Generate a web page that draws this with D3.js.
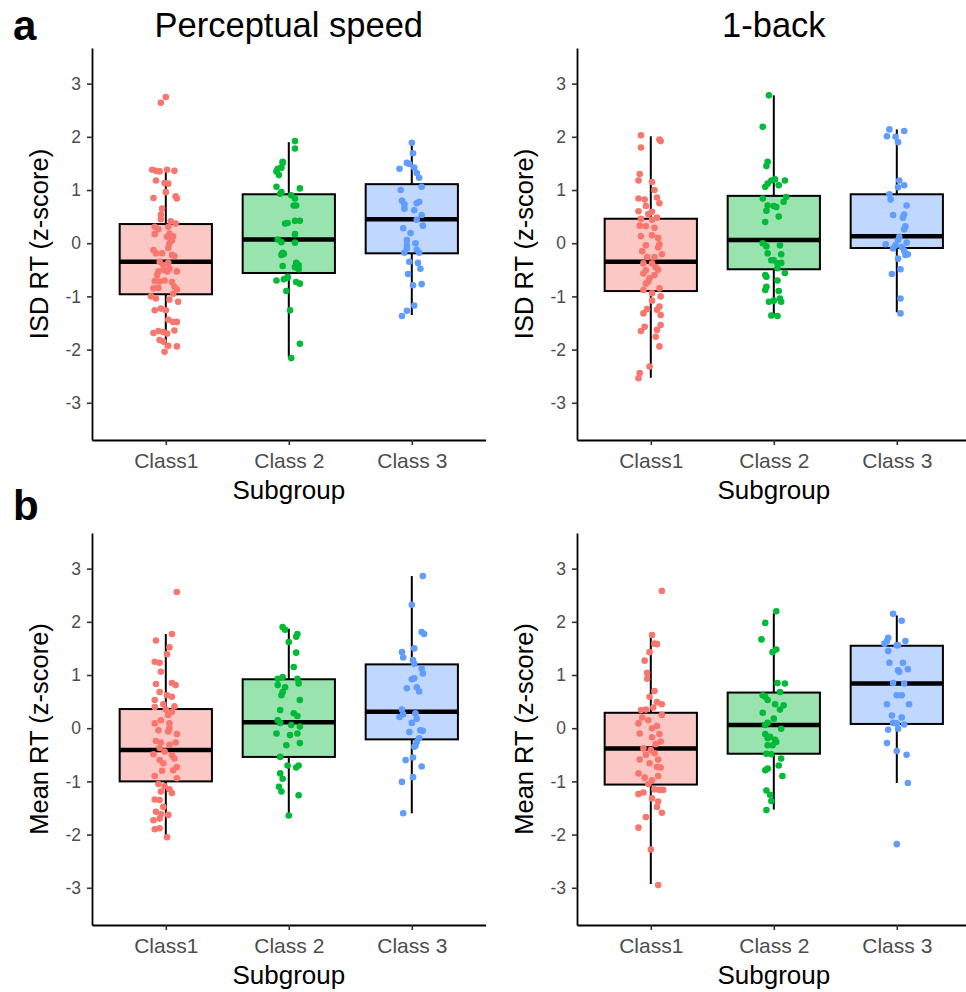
<!DOCTYPE html>
<html>
<head>
<meta charset="utf-8">
<script src="https://cdn.jsdelivr.net/npm/d3@7"></script>
<style>
  body { margin: 0; background: #fff; }
  svg text { font-family: "Liberation Sans", Arial, sans-serif; }
</style>
</head>
<body>
<div id="chart"></div>
<script>
// categories / ticks / labels
var categories = ["Class1", "Class 2", "Class 3"];
var yTicks = [-3, -2, -1, 0, 1, 2, 3];
var panelTitles = ["Perceptual speed", "1-back"];
var rowLetters = ["a", "b"];
var yTitles = ["ISD RT (z-score)", "Mean RT (z-score)"];
var xTitle = "Subgroup";
var colors = ["#F8766D", "#00BA38", "#619CFF"];

// box stats per class: [whisker low, q1, median, q3, whisker high]
var boxPsIsd = [[-1.96, -0.96, -0.35, 0.36, 1.34], [-2.14, -0.56, 0.07, 0.92, 1.90], [-1.35, -0.19, 0.45, 1.11, 1.88]];
var boxNbIsd = [[-2.53, -0.90, -0.35, 0.46, 2.01], [-1.37, -0.49, 0.06, 0.89, 2.78], [-1.30, -0.09, 0.13, 0.92, 2.14]];
var boxPsMean = [[-2.04, -1.00, -0.41, 0.36, 1.77], [-1.64, -0.54, 0.11, 0.92, 1.87], [-1.60, -0.21, 0.31, 1.20, 2.86]];
var boxNbMean = [[-2.93, -1.06, -0.38, 0.29, 1.77], [-1.53, -0.48, 0.06, 0.67, 2.16], [-1.03, 0.08, 0.84, 1.55, 2.12]];

// jittered points: [jitter offset (category units), z-score]
var psIsd1 = [[0.00,2.75],[-0.04,2.64],[-0.11,1.38],[-0.08,1.36],[-0.05,1.35],[0.01,1.38],[0.07,1.36],[-0.08,1.18],[-0.01,1.13],[0.02,1.12],
  [0.00,0.96],[-0.10,0.85],[0.08,0.88],[0.09,0.84],[-0.03,0.65],[-0.04,0.54],[0.04,0.41],[0.08,0.37],[0.02,0.31],[-0.09,0.31],[-0.06,0.26],
  [-0.09,0.17],[0.03,0.18],[0.01,0.12],[0.06,0.13],[0.03,0.00],[0.02,-0.09],[-0.10,-0.13],[-0.08,-0.19],[-0.03,-0.19],[0.05,-0.22],[0.07,-0.24],
  [-0.05,-0.35],[0.02,-0.37],[-0.02,-0.41],[-0.02,-0.50],[0.01,-0.53],[0.09,-0.53],[0.03,-0.48],[-0.06,-0.53],[-0.09,-0.71],[-0.05,-0.72],
  [-0.01,-0.70],[0.05,-0.73],[0.07,-0.82],[0.09,-0.87],[-0.10,-0.85],[-0.06,-0.84],[-0.12,-1.00],[-0.08,-1.04],[0.03,-1.06],[0.10,-1.10],
  [-0.09,-1.26],[-0.04,-1.23],[0.00,-1.26],[0.02,-1.44],[0.06,-1.48],[0.09,-1.48],[-0.10,-1.69],[-0.06,-1.65],[-0.02,-1.67],[0.01,-1.70],
  [0.07,-1.64],[-0.05,-1.82],[-0.02,-1.85],[0.02,-1.93],[0.09,-1.94],[-0.01,-2.04],[0.05,0.05],[-0.07,-0.60],[0.06,-0.95],[-0.04,0.45]];
var psIsd2 = [[0.05,1.92],[0.05,1.78],[-0.05,1.51],[-0.06,1.42],[-0.05,1.53],[-0.09,1.40],[-0.10,1.35],[-0.08,1.28],[0.09,1.03],[-0.10,1.06],
  [-0.07,0.93],[-0.06,0.96],[0.02,0.90],[0.05,0.84],[0.04,0.71],[0.06,0.71],[-0.01,0.38],[0.05,0.42],[0.09,0.42],[-0.03,0.37],[0.05,0.17],
  [-0.09,0.07],[-0.06,0.02],[0.05,0.01],[-0.05,-0.18],[-0.04,-0.20],[-0.06,-0.22],[0.06,-0.37],[0.08,-0.41],[-0.05,-0.43],[0.05,-0.45],
  [0.08,-0.49],[-0.10,-0.70],[-0.04,-0.68],[-0.01,-0.65],[0.09,-0.76],[0.06,-0.73],[-0.01,-0.63],[-0.02,-0.90],[0.01,-1.26],[0.09,-1.89],[0.02,-2.16]];
var psIsd3 = [[0.00,1.89],[0.01,1.69],[-0.04,1.51],[-0.02,1.49],[0.02,1.42],[-0.10,1.40],[0.04,1.32],[0.06,1.23],[0.08,1.06],[-0.09,1.00],
  [-0.08,0.80],[-0.06,0.73],[0.06,0.78],[0.04,0.75],[-0.06,0.65],[0.02,0.62],[0.08,0.53],[0.04,0.44],[0.09,0.33],[-0.07,0.28],[-0.01,0.19],
  [-0.04,0.06],[-0.04,-0.04],[0.03,0.00],[-0.04,-0.10],[-0.06,-0.18],[0.04,-0.12],[0.06,-0.18],[-0.02,-0.35],[0.05,-0.37],[0.07,-0.48],
  [-0.03,-0.58],[0.01,-0.79],[0.08,-0.77],[0.02,-1.17],[-0.04,-1.27],[-0.08,-1.37]];

var nbIsd1 = [[-0.08,2.03],[0.07,1.95],[0.08,1.92],[-0.08,1.80],[-0.09,1.30],[-0.10,1.18],[0.01,1.15],[0.03,1.00],[-0.10,0.84],[-0.05,0.82],
  [0.05,0.86],[0.07,0.75],[-0.04,0.70],[0.01,0.59],[-0.10,0.60],[-0.08,0.46],[0.01,0.44],[0.05,0.48],[-0.09,0.33],[-0.04,0.32],[0.03,0.29],
  [-0.08,0.13],[0.01,0.15],[0.07,-0.02],[-0.04,-0.04],[0.06,-0.08],[0.09,-0.21],[-0.03,-0.26],[0.03,-0.26],[-0.06,-0.38],[0.01,-0.38],
  [-0.04,-0.51],[0.06,-0.50],[-0.06,-0.57],[0.03,-0.60],[-0.01,-0.66],[-0.04,-0.76],[0.07,-0.85],[-0.06,-0.88],[0.01,-0.94],[0.01,-1.08],
  [0.07,-1.19],[0.05,-1.25],[-0.03,-1.24],[-0.06,-1.32],[0.08,-1.35],[0.08,-1.54],[-0.05,-1.57],[-0.08,-1.65],[0.05,-1.63],[0.04,-1.76],
  [0.07,-1.94],[-0.01,-2.32],[-0.09,-2.44],[-0.10,-2.54],[-0.02,0.55],[0.06,0.10],[-0.07,-0.15],[0.04,-0.45],[-0.02,-0.72],[0.08,-1.00]];
var nbIsd2 = [[-0.04,2.78],[-0.09,2.19],[-0.05,1.53],[-0.06,1.45],[-0.07,1.06],[-0.05,1.12],[-0.02,1.18],[0.01,1.20],[0.09,1.18],[0.04,1.09],
  [-0.09,0.84],[-0.05,0.71],[-0.06,0.61],[-0.07,0.40],[0.00,0.70],[0.02,0.68],[0.08,0.78],[0.10,0.87],[0.04,0.50],[-0.09,0.00],[-0.06,-0.06],
  [0.05,-0.04],[-0.05,-0.19],[-0.02,-0.32],[0.06,-0.21],[0.00,-0.32],[0.03,-0.38],[0.06,-0.37],[0.03,-0.47],[0.09,-0.56],[-0.07,-0.60],
  [-0.06,-0.63],[0.03,-0.70],[-0.06,-0.82],[-0.07,-0.88],[0.04,-0.90],[0.05,-1.04],[0.06,-1.10],[-0.04,-1.10],[0.00,-1.08],[-0.02,-1.36],[0.03,-1.37]];
var nbIsd3 = [[-0.06,2.14],[0.06,2.11],[-0.08,2.01],[-0.01,2.00],[0.01,1.90],[0.02,1.18],[0.06,1.09],[0.01,1.05],[-0.06,0.92],[-0.05,0.82],
  [0.08,0.71],[-0.03,0.53],[0.06,0.54],[0.05,0.48],[0.07,0.32],[0.06,0.26],[0.02,0.12],[0.01,0.06],[0.08,0.01],[-0.09,-0.02],[-0.01,-0.04],
  [-0.03,-0.10],[0.04,-0.07],[0.06,-0.14],[0.09,-0.21],[0.07,-0.22],[0.01,-0.29],[0.03,-0.49],[-0.04,-0.58],[0.03,-1.04],[0.03,-1.32]];

var psMean1 = [[0.09,2.56],[0.05,1.77],[-0.08,1.65],[0.03,1.52],[0.01,1.39],[-0.09,1.25],[-0.05,1.23],[-0.04,1.06],[-0.08,0.83],[0.05,0.85],
  [0.08,0.81],[-0.05,0.68],[0.01,0.62],[0.05,0.59],[-0.09,0.53],[-0.09,0.40],[-0.02,0.45],[0.07,0.41],[0.05,0.31],[0.02,0.25],[-0.09,0.09],
  [-0.04,0.15],[0.03,0.09],[-0.06,-0.04],[0.03,0.00],[0.02,-0.06],[0.09,-0.11],[-0.08,-0.24],[-0.04,-0.27],[0.08,-0.27],[0.03,-0.31],
  [-0.05,-0.37],[-0.10,-0.49],[-0.01,-0.44],[0.05,-0.51],[0.07,-0.57],[-0.05,-0.60],[-0.02,-0.66],[0.09,-0.73],[0.06,-0.79],[-0.09,-0.90],
  [0.09,-0.94],[-0.06,-1.05],[-0.01,-1.09],[0.03,-1.15],[-0.04,-1.19],[0.05,-1.22],[-0.09,-1.34],[-0.05,-1.35],[-0.02,-1.48],[-0.08,-1.57],
  [-0.04,-1.62],[0.02,-1.63],[-0.10,-1.73],[-0.05,-1.70],[-0.09,-1.90],[-0.05,-1.88],[0.01,-2.05],[0.00,0.35],[-0.03,-0.80]];
var psMean2 = [[-0.05,1.90],[-0.03,1.85],[0.00,1.62],[0.06,1.72],[0.07,1.77],[0.06,1.42],[0.04,1.15],[-0.09,0.93],[-0.05,0.96],[0.07,0.93],
  [0.08,0.84],[-0.03,0.77],[-0.09,0.81],[-0.05,0.68],[-0.06,0.62],[0.09,0.53],[-0.07,0.34],[0.04,0.28],[0.07,0.23],[-0.09,0.15],[-0.07,0.10],
  [0.02,0.06],[0.09,0.03],[-0.10,-0.10],[0.07,-0.10],[0.01,-0.13],[-0.02,-0.32],[0.09,-0.28],[-0.07,-0.54],[-0.01,-0.70],[0.08,-0.70],
  [0.06,-0.74],[-0.07,-0.85],[-0.05,-0.95],[-0.08,-1.10],[-0.06,-1.19],[0.08,-1.26],[0.00,-1.64]];
var psMean3 = [[0.09,2.86],[0.00,2.32],[0.08,1.81],[0.10,1.77],[-0.08,1.43],[-0.07,1.33],[0.02,1.50],[0.01,1.28],[0.02,1.21],[0.08,1.12],
  [0.09,1.03],[0.00,0.92],[0.02,0.94],[-0.04,0.75],[0.04,0.77],[0.06,0.69],[-0.08,0.35],[-0.10,0.21],[-0.07,0.26],[0.03,0.28],[0.04,0.18],
  [0.00,0.10],[-0.02,-0.07],[0.07,-0.04],[0.09,-0.05],[0.06,-0.19],[0.04,-0.26],[0.02,-0.35],[0.03,-0.33],[-0.05,-0.60],[0.01,-0.55],
  [0.08,-0.72],[0.01,-0.92],[-0.08,-1.01],[-0.07,-1.60]];

var nbMean1 = [[0.09,2.58],[0.01,1.75],[0.03,1.59],[0.05,1.58],[-0.01,1.43],[-0.05,1.27],[-0.03,1.04],[-0.03,0.93],[0.03,0.70],[-0.01,0.59],
  [0.05,0.49],[0.09,0.45],[-0.08,0.34],[-0.04,0.35],[0.02,0.39],[0.09,0.25],[-0.10,0.09],[-0.09,-0.10],[0.01,0.00],[0.05,0.04],[0.07,-0.11],
  [0.08,-0.25],[0.01,-0.17],[-0.06,-0.38],[0.00,-0.41],[0.03,-0.47],[-0.04,-0.50],[0.06,-0.59],[-0.09,-0.59],[-0.01,-0.66],[0.05,-0.73],
  [0.08,-0.74],[-0.10,-0.85],[-0.05,-0.93],[0.01,-0.98],[-0.02,-1.05],[0.03,-1.15],[0.07,-1.16],[0.10,-1.16],[-0.10,-1.24],[-0.06,-1.21],
  [0.01,-1.32],[0.06,-1.38],[0.05,-1.48],[0.09,-1.59],[-0.04,-1.67],[-0.10,-1.87],[0.00,-2.28],[0.06,-2.95],[-0.07,0.20],[0.04,-0.30],
  [-0.02,0.15],[0.06,-0.90]];
var nbMean2 = [[0.02,2.20],[-0.07,1.98],[-0.10,1.67],[-0.01,1.43],[0.02,1.48],[0.03,0.85],[0.09,0.84],[0.05,0.68],[-0.09,0.62],[-0.07,0.59],
  [-0.05,0.53],[0.01,0.45],[0.08,0.43],[0.05,0.35],[-0.09,0.29],[0.00,0.18],[-0.05,0.10],[-0.07,0.06],[0.06,-0.01],[-0.07,-0.11],[-0.03,-0.16],
  [-0.05,-0.19],[0.01,-0.22],[0.02,-0.26],[-0.05,-0.32],[-0.01,-0.32],[-0.06,-0.48],[-0.02,-0.49],[0.06,-0.57],[0.04,-0.70],[-0.05,-0.76],
  [-0.07,-0.79],[0.07,-0.90],[-0.06,-1.17],[-0.03,-1.25],[-0.02,-1.37],[-0.06,-1.54]];
var nbMean3 = [[-0.03,2.15],[0.04,2.02],[-0.08,1.64],[-0.07,1.70],[-0.10,1.59],[0.01,1.56],[0.00,1.56],[0.07,1.64],[-0.07,1.45],[-0.06,1.23],
  [0.05,1.23],[0.01,1.09],[0.02,1.06],[0.09,1.11],[-0.03,0.85],[0.06,0.84],[0.00,0.62],[0.04,0.62],[-0.08,0.45],[0.10,0.45],[-0.04,0.24],
  [0.04,0.20],[-0.03,0.10],[0.06,0.07],[-0.07,-0.03],[0.01,-0.01],[0.00,0.09],[-0.08,-0.28],[0.00,-0.43],[0.08,-0.50],[0.09,-1.03],[0.00,-2.18]];

var width = 966, height = 992;

var svg = d3.select("#chart")
  .append("svg")
  .attr("width", width)
  .attr("height", height)
  .style("background", "#fff");

// panel layout (col, row)
var panels = [
  {col: 0, row: 0, box: boxPsIsd, pts: [psIsd1, psIsd2, psIsd3]},
  {col: 1, row: 0, box: boxNbIsd, pts: [nbIsd1, nbIsd2, nbIsd3]},
  {col: 0, row: 1, box: boxPsMean, pts: [psMean1, psMean2, psMean3]},
  {col: 1, row: 1, box: boxNbMean, pts: [nbMean1, nbMean2, nbMean3]}
];
var colLeft = [92, 577];
var plotW = 393.6;
var rowTop = [48, 533];
var plotH = 392;

panels.forEach(function(p) {
  var x0 = colLeft[p.col], y0 = rowTop[p.row];
  var x = d3.scalePoint().domain(categories).range([x0, x0 + plotW]).padding(0.6);
  var y = d3.scaleLinear().domain([-3.70, 3.67]).range([y0 + plotH, y0]);
  var step = x.step();
  var g = svg.append("g");

  // boxes
  p.box.forEach(function(b, i) {
    var cx = x(categories[i]);
    var half = step * 0.375;
    g.append("line")
      .attr("x1", cx).attr("x2", cx)
      .attr("y1", y(b[0])).attr("y2", y(b[4]))
      .attr("stroke", "black").attr("stroke-width", 2);
    g.append("rect")
      .attr("x", cx - half).attr("y", y(b[3]))
      .attr("width", half * 2).attr("height", y(b[1]) - y(b[3]))
      .attr("fill", "white");
    g.append("rect")
      .attr("x", cx - half).attr("y", y(b[3]))
      .attr("width", half * 2).attr("height", y(b[1]) - y(b[3]))
      .attr("fill", colors[i]).attr("fill-opacity", 0.4)
      .attr("stroke", "black").attr("stroke-width", 2);
    g.append("line")
      .attr("x1", cx - half).attr("x2", cx + half)
      .attr("y1", y(b[2])).attr("y2", y(b[2]))
      .attr("stroke", "black").attr("stroke-width", 4.5);
  });

  // jittered points
  p.pts.forEach(function(arr, i) {
    g.selectAll(null)
      .data(arr)
      .enter()
      .append("circle")
      .attr("cx", function(d) { return x(categories[i]) + d[0] * step; })
      .attr("cy", function(d) { return y(d[1]); })
      .attr("r", 3.3)
      .attr("fill", colors[i]);
  });

  // axes
  var yAxis = g.append("g")
    .attr("transform", "translate(" + x0 + ",0)")
    .call(d3.axisLeft(y).tickValues(yTicks).tickFormat(function(d) { return String(d); })
      .tickSize(5).tickSizeOuter(0).tickPadding(6));
  var xAxis = g.append("g")
    .attr("transform", "translate(0," + (y0 + plotH) + ")")
    .call(d3.axisBottom(x).tickSize(5).tickSizeOuter(0).tickPadding(8));
  [yAxis, xAxis].forEach(function(a) {
    a.select(".domain").attr("stroke", "black").attr("stroke-width", 1.8);
    a.selectAll(".tick line").attr("stroke", "#333").attr("stroke-width", 1.6);
    a.selectAll(".tick text").attr("fill", "#4D4D4D")
      .style("font-family", "'Liberation Sans', Arial, sans-serif");
  });
  yAxis.selectAll(".tick text").style("font-size", "17.5px");
  xAxis.selectAll(".tick text").style("font-size", "21px");

  // axis titles
  g.append("text")
    .attr("x", x0 + plotW / 2).attr("y", y0 + plotH + 59)
    .attr("text-anchor", "middle")
    .style("font-size", "26px")
    .text(xTitle);
  g.append("text")
    .attr("transform", "translate(" + (x0 - 44) + "," + (y0 + plotH / 2) + ") rotate(-90)")
    .attr("text-anchor", "middle")
    .style("font-size", "25.5px")
    .text(yTitles[p.row]);

  if (p.row === 0) {
    g.append("text")
      .attr("x", x0 + plotW / 2).attr("y", 37)
      .attr("text-anchor", "middle")
      .style("font-size", "34.5px")
      .text(panelTitles[p.col]);
  }
  if (p.col === 0) {
    g.append("text")
      .attr("x", 13).attr("y", p.row === 0 ? 40 : 520)
      .style("font-size", "42px")
      .style("font-weight", "bold")
      .text(rowLetters[p.row]);
  }
});
</script>
</body>
</html>
